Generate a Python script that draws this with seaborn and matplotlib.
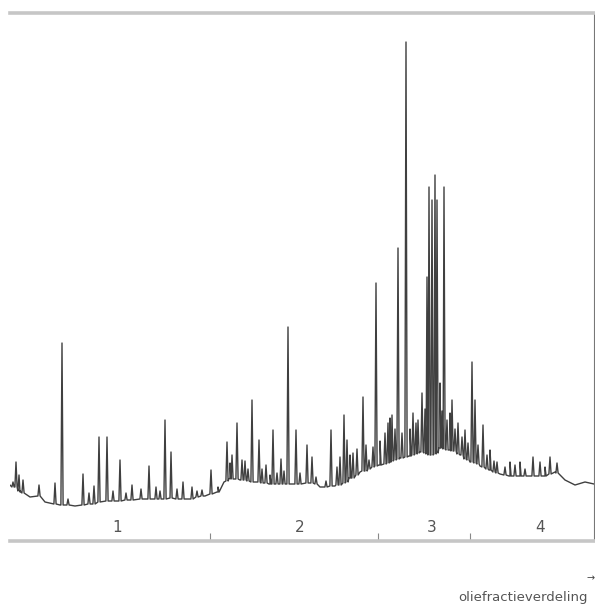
import numpy as np
import pandas as pd
import matplotlib
matplotlib.use("Agg")
import matplotlib.pyplot as plt
import seaborn as sns

# ---- data (retention position, detector signal) ----
baseline_x = [10, 20, 30, 45, 60, 75, 90, 110, 130, 150, 170, 190, 205, 218, 224, 230, 240, 255,
              270, 290, 310, 320, 335, 350, 360, 370, 380, 390, 400, 410, 420, 430, 440, 450,
              460, 470, 480, 490, 500, 510, 520, 530, 545, 555, 565, 575, 585, 594]
baseline_s = [56, 49, 44, 39, 36, 35, 38, 40, 41, 42, 43, 42, 45, 49, 59, 63, 61, 59,
              57, 57, 58, 54, 55, 63, 69, 73, 76, 79, 83, 85, 89, 86, 93, 91,
              86, 79, 75, 71, 67, 65, 65, 65, 65, 69, 61, 56, 59, 57]

peak_x = [13, 16, 23, 39, 55, 62, 83, 89, 99, 107, 120, 132, 149, 156, 165, 171, 183, 192, 202, 211, 218,
          227, 232, 237, 242, 252, 259, 266, 273, 277, 288, 296, 307, 312, 331, 337, 344, 347, 353, 363, 369,
          376, 385, 390, 392, 398, 406, 413, 418, 422, 427, 429, 432, 435, 437, 440, 444, 447, 452, 458, 465,
          472, 475, 483, 490, 497, 510, 520, 533, 540, 550]
peak_top = [59, 79, 61, 56, 58, 198, 67, 48, 104, 104, 81, 56, 75, 54, 121, 89, 59, 54, 51, 71, 54,
            99, 86, 118, 81, 141, 101, 76, 111, 68, 214, 111, 96, 84, 111, 74, 126, 101, 88, 144, 81,
            258, 108, 123, 126, 293, 499, 128, 121, 148, 264, 354, 341, 366, 341, 158, 354, 121, 141, 118, 111,
            179, 141, 116, 91, 79, 79, 79, 84, 79, 84]
peak_base = [54, 54, 48, 45, 37, 36, 36, 37, 39, 40, 40, 41, 42, 42, 42, 43, 42, 42, 45, 47, 49,
             60, 62, 62, 61, 59, 59, 58, 57, 57, 57, 57, 58, 58, 55, 56, 58, 59, 63, 70, 72,
             75, 77, 79, 80, 82, 84, 86, 88, 89, 87, 86, 86, 87, 88, 93, 92, 91, 90, 87, 82,
             79, 78, 74, 71, 68, 65, 65, 65, 65, 67]

# small shoulders / noise peaks between the main peaks
minor_x = [19, 68, 94, 113, 126, 141, 160, 177, 197, 230, 245, 248, 262, 270, 281, 284, 300, 316,
           326, 340, 350, 357, 366, 373, 380, 388, 395, 402, 410, 416, 425, 442, 450, 455, 462,
           468, 478, 487, 494, 505, 515, 525, 545, 557]
minor_top = [66, 42, 55, 50, 48, 52, 50, 52, 50, 78, 80, 72, 72, 66, 82, 70, 68, 64,
             60, 84, 86, 92, 96, 94, 100, 118, 112, 108, 112, 118, 132, 130, 128, 112, 104,
             98, 96, 86, 80, 74, 76, 72, 74, 78]
minor_base = [50, 36, 37, 40, 41, 42, 42, 42, 44, 62, 61, 60, 58, 57, 57, 57, 57, 57,
              54, 56, 63, 66, 70, 74, 76, 78, 81, 83, 85, 87, 88, 93, 91, 90, 86,
              81, 77, 72, 69, 66, 65, 65, 65, 68]

region_labels = ["1", "2", "3", "4"]
region_centers = [117, 300, 432, 540]
region_bounds = [210, 378, 470]

# ---- build the trace vertices ----
hw = 1.1
xs = list(baseline_x)
ys = list(baseline_s)
for px, pt, pb in zip(peak_x + minor_x, peak_top + minor_top, peak_base + minor_base):
    xs += [px - hw, px, px + hw]
    ys += [pb, pt, pb]
df = pd.DataFrame({"x": xs, "s": ys}).sort_values("x", kind="stable").reset_index(drop=True)

sns.set_style("white")
fig = plt.figure(figsize=(5.95, 6.05), dpi=100)
ax = fig.add_axes([10 / 595, 64 / 605, 584 / 595, 528 / 605])

sns.lineplot(data=df, x="x", y="s", estimator=None, sort=False, color="#404040",
             linewidth=1.0, ax=ax)

ax.set_xlim(10, 594)
ax.set_ylim(0, 528)
ax.set_xlabel("")
ax.set_ylabel("")
ax.set_yticks([])
ax.set_xticks(region_bounds)
ax.set_xticklabels([])
ax.tick_params(axis="x", direction="in", length=6, width=0.8, color="#888888", bottom=True)

ax.spines["left"].set_visible(False)
ax.spines["top"].set_color("#c6c6c6")
ax.spines["top"].set_linewidth(2.6)
ax.spines["bottom"].set_color("#c6c6c6")
ax.spines["bottom"].set_linewidth(2.6)
ax.spines["right"].set_color("#777777")
ax.spines["right"].set_linewidth(0.8)

for lab, cx in zip(region_labels, region_centers):
    ax.text(cx, 14, lab, ha="center", va="center", fontsize=11, color="#555555")

fig.text(458 / 595, 1 - 598 / 605, "oliefractieverdeling", fontsize=9.5, color="#555555",
         ha="left", va="center")
fig.text(1.0, 1 - 578 / 605, "→", fontsize=7, color="#444444", ha="right", va="center")

fig.savefig("out.png", dpi=100)
